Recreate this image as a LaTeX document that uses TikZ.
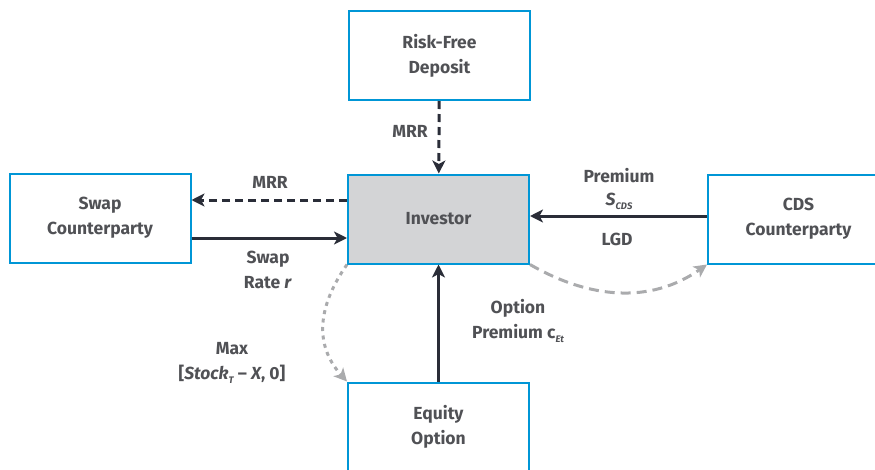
\documentclass[tikz,border=0pt]{standalone}
\usepackage{fontspec}
\setmainfont{Fira Sans}
\usetikzlibrary{arrows.meta, positioning}
\definecolor{boxblue}{RGB}{0, 150, 214}
\definecolor{hubgray}{RGB}{211, 212, 214}
\definecolor{flownavy}{RGB}{42, 45, 56}
\definecolor{flowgray}{RGB}{170, 171, 173}
\definecolor{textgray}{RGB}{80, 81, 85}
\newcommand{\lowsub}[1]{\raisebox{-4pt}{\fontsize{9.5}{9.5}\selectfont\itshape #1}}
\tikzset{
  party/.style={rectangle, draw=boxblue, line width=2pt, minimum width=181pt, minimum height=89pt, align=center, text=textgray, font=\fontsize{17.5}{25}\selectfont\bfseries},
  hub/.style={party, fill=hubgray},
  flowlabel/.style={align=center, text=textgray, inner sep=1pt, font=\fontsize{17.5}{25}\selectfont\bfseries},
  cashflow/.style={draw=flownavy, line width=3pt, -{Stealth[length=13pt, width=13pt, inset=3.5pt]}},
  marginflow/.style={cashflow, dash pattern=on 8pt off 5pt},
  payoffflow/.style={draw=flowgray, line width=3pt, dash pattern=on 10pt off 6pt, -{Stealth[length=13pt, width=13pt, inset=3.5pt]}},
  exerciseflow/.style={payoffflow, dash pattern=on 4pt off 4.5pt}
}

\begin{document}
\begin{tikzpicture}[x=1pt, y=-1pt]
    \clip (0, 0) rectangle (875, 469);

    % Parties
    \node[party] (deposit) at (439.5, 55.5) {Risk-Free\\Deposit};
    \node[hub] (investor) at (438.5, 219) {Investor};
    \node[party] (swap) at (100, 218) {Swap\\Counterparty};
    \node[party] (cds) at (798.5, 219) {CDS\\Counterparty};
    \node[party] (equity) at (438.5, 427) {Equity\\Option};

    % Margin flows
    \draw[marginflow] (deposit) -- (investor);
    \node[flowlabel] (mrrtop) at (410, 131) {MRR};
    \draw[marginflow] (investor.west |- 0, 200) -- (swap.east |- 0, 200);
    \node[flowlabel] (mrrleft) at (270, 182) {MRR};

    % Swap leg
    \draw[cashflow] (swap.east |- 0, 238) -- (investor.west |- 0, 238);
    \node[flowlabel] (swaprate) at (268, 269.5) {Swap\\Rate \textit{r}};

    % CDS leg
    \draw[cashflow] (cds.west |- 0, 216) -- (investor.east |- 0, 216);
    \node[flowlabel] (premium) at (619, 189) {Premium\\[-2pt]\textit{S}\lowsub{CDS}};
    \node[flowlabel] (lgd) at (617, 239) {LGD};
    \draw[payoffflow] (investor.south east) to[out=-30, in=-145] (cds.south west);

    % Option leg
    \draw[cashflow] (equity) -- (investor);
    \node[flowlabel] (optprem) at (518, 320.5) {Option\\Premium c\lowsub{Et}};
    \draw[exerciseflow] (investor.south west) to[out=-125, in=132, looseness=1.1] (equity.north west);
    \node[flowlabel] (payoff) at (232, 362.5) {Max\\{}[\textit{Stock}\lowsub{T} -- \textit{X}, 0]};
\end{tikzpicture}
\end{document}
